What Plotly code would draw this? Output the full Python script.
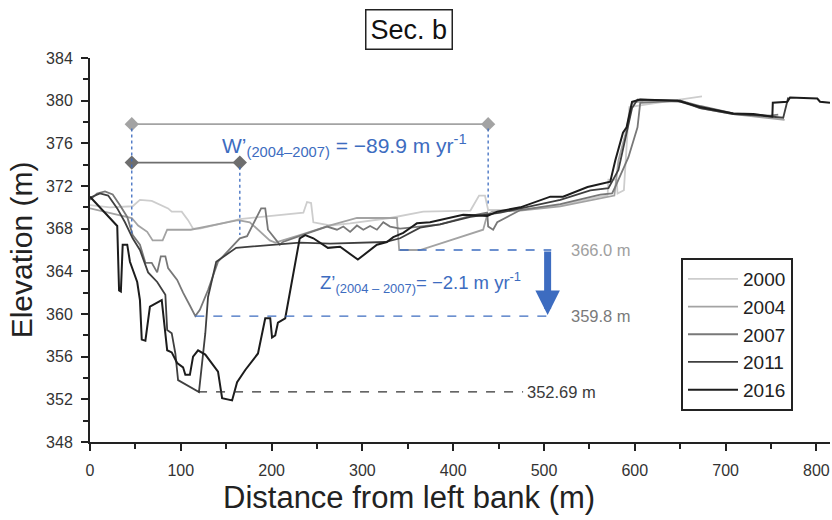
import plotly.graph_objects as go

# ---- data (distance m, elevation m) ----
x2000 = [0, 22, 47, 55, 68, 86, 90, 101, 108, 113.5, 121, 165, 235, 239, 243.5, 246, 264.5, 286.5, 330.5, 367, 419, 428.5, 435, 438.5, 474, 518, 562, 570, 571, 580, 581, 588, 592, 594, 617, 674]
y2000 = [370.2, 370.0, 370.1, 370.7, 370.6, 369.9, 369.6, 369.6, 368.8, 368.0, 368.0, 368.9, 369.5, 370.5, 370.4, 368.6, 368.3, 368.5, 369.0, 369.6, 369.7, 371.1, 371.1, 369.75, 369.75, 370.2, 371.0, 371.1, 372.6, 372.6, 371.3, 371.6, 377.1, 379.4, 379.7, 380.4]

x2004 = [0, 16.5, 31, 46, 53, 63, 69, 80, 85, 111, 163, 176, 198, 204, 231, 264.5, 294, 338, 340.5, 363.5, 433, 437.5, 443, 474, 518, 562, 577.5, 582, 589.5, 597, 611.5, 650, 672, 708.5, 749, 765]
y2004 = [369.9, 369.6, 369.3, 369.0, 368.3, 367.7, 366.9, 366.9, 367.9, 367.9, 368.8, 368.6, 366.9, 366.7, 367.4, 368.3, 369.0, 369.0, 366.0, 366.0, 367.9, 369.3, 369.6, 369.7, 370.1, 370.8, 371.1, 374.4, 376.8, 379.8, 380.0, 379.9, 379.3, 378.75, 378.4, 378.2]

x2007 = [0, 7.7, 16.5, 25, 33, 41, 47, 55, 61, 68, 74, 78, 83, 86, 96, 102.5, 110, 116, 121, 130, 141, 151, 165, 173, 188.5, 193, 196, 209, 212.5, 233.5, 261, 272, 279, 286.5, 294, 301, 308.5, 316, 323, 330.5, 341.5, 352.5, 385.5, 419, 437.5, 438.5, 444, 448.5, 474, 518, 562, 575, 579.5, 593, 603, 606, 650, 672, 708.5, 749, 758]
y2007 = [370.7, 371.3, 371.5, 371.2, 370.2, 369.1, 367.4, 366.5, 364.8, 364.8, 363.9, 365.4, 365.4, 364.3, 363.2, 362.0, 360.8, 359.8, 360.4, 362.25, 364.9, 365.8, 367.1, 367.3, 369.9, 369.9, 367.9, 366.5, 366.75, 367.4, 368.2, 367.9, 368.2, 367.7, 368.3, 367.9, 368.25, 367.9, 368.6, 368.2, 368.0, 368.1, 368.4, 369.2, 369.5, 368.2, 367.9, 368.6, 369.75, 370.3, 371.2, 371.3, 372.1, 374.7, 377.5, 379.8, 380.0, 379.5, 378.8, 378.6, 378.7]

x2011 = [0, 11, 20, 30, 38.5, 47, 55, 64, 74, 83, 85, 90, 94, 97, 120, 127, 130, 139, 161, 201.5, 231, 264.5, 297.5, 325, 341.5, 363.5, 385.5, 419, 452, 485, 518, 551, 571, 582, 589.5, 597, 603, 650, 672, 708.5, 738, 763.5, 769]
y2011 = [370.9, 371.3, 371.1, 369.9, 368.6, 367.1, 366.0, 363.9, 363.0, 361.8, 358.5, 358.2, 356.3, 353.8, 352.69, 358.2, 361.6, 364.9, 366.2, 366.5, 366.7, 366.6, 366.7, 366.75, 367.1, 368.1, 368.4, 369.1, 369.5, 370.1, 370.7, 371.6, 371.8, 373.5, 376.3, 379.3, 380.1, 380.0, 379.3, 378.75, 378.6, 378.4, 380.3]

x2016 = [0, 11, 30, 32, 34, 36, 41, 44, 52, 55, 57, 61, 66, 79, 85, 90, 96, 102.5, 105, 110, 113.5, 119, 127, 141, 145.5, 156.5, 162, 171, 185, 193, 198.5, 200.5, 204, 207, 215, 231, 237, 246, 262, 275.5, 295, 316, 327, 334, 345, 355, 360, 374.5, 385.5, 411, 437.5, 448.5, 474, 507, 521, 548, 573, 578.5, 587, 591, 597, 606, 647, 672, 708.5, 730.5, 751.5, 752, 768, 771, 801, 804, 815]
y2016 = [371.0, 370.0, 368.25, 362.2, 362.1, 366.5, 366.5, 364.9, 363.0, 361.3, 357.6, 357.5, 360.7, 361.3, 356.6, 356.4, 355.4, 355.0, 354.3, 354.3, 356.0, 356.6, 356.2, 354.6, 352.1, 351.9, 353.6, 354.75, 356.3, 359.6, 359.6, 357.8, 358.0, 359.2, 359.6, 367.1, 367.4, 367.1, 366.2, 366.3, 365.1, 366.5, 366.75, 367.2, 367.6, 368.2, 368.5, 368.6, 368.8, 369.3, 369.2, 369.6, 370.0, 371.0, 371.0, 371.9, 372.4, 374.4, 377.0, 377.5, 379.9, 380.1, 380.0, 379.4, 378.8, 378.75, 378.5, 379.8, 379.9, 380.3, 380.2, 379.9, 379.8]

years = ["2000", "2004", "2007", "2011", "2016"]
xs = [x2000, x2004, x2007, x2011, x2016]
ys = [y2000, y2004, y2007, y2011, y2016]
colors = ["#cdcdcd", "#a3a3a3", "#787878", "#3f3f3f", "#1c1c1c"]
widths = [1.8, 1.8, 1.8, 1.8, 2.0]

# annotation values
w_left, w_right_2004, w_right_2007 = 46, 438.5, 165
w_level_2004, w_level_2007 = 377.8, 374.2
z_2004, z_2007, z_min = 366.0, 359.8, 352.69

BLUE = "#3d6cc0"
FONT = "Liberation Sans, Arial, sans-serif"

# body margin is removed in the page, plot area at page x 90..830, y 58..442
W, H = 832, 520
ML, MR, MT, MB = 90, 2, 58, 78

def px_x(p):  # page pixel -> paper x
    return (p - 90) / 740.0

def px_y(p):  # page pixel -> paper y
    return 1 + (58 - p) / 384.0

fig = go.Figure()
for yr, xv, yv, c, w in zip(years, xs, ys, colors, widths):
    fig.add_trace(go.Scatter(x=xv, y=yv, mode="lines", name=yr,
                             line=dict(color=c, width=w)))

# width bars with diamond markers
fig.add_trace(go.Scatter(x=[w_left, w_right_2004], y=[w_level_2004] * 2, mode="lines+markers",
                         line=dict(color="#a3a3a3", width=1.8),
                         marker=dict(symbol="diamond", size=11, color="#a3a3a3"),
                         showlegend=False, hoverinfo="skip"))
fig.add_trace(go.Scatter(x=[w_left, w_right_2007], y=[w_level_2007] * 2, mode="lines+markers",
                         line=dict(color="#6e6e6e", width=1.8),
                         marker=dict(symbol="diamond", size=11, color="#6e6e6e"),
                         showlegend=False, hoverinfo="skip"))

shapes = []
def vline(x, y0, y1):
    shapes.append(dict(type="line", x0=x, x1=x, y0=y0, y1=y1, xref="x", yref="y",
                       line=dict(color=BLUE, width=1.3, dash="dot")))
vline(w_left, w_level_2004 - 0.4, 367.4)
vline(w_right_2007, w_level_2007 - 0.4, 367.4)
vline(w_right_2004, w_level_2004 - 0.4, 370.2)

def hline(x0, x1, y, color, dash="dash", width=1.3):
    shapes.append(dict(type="line", x0=x0, x1=x1, y0=y, y1=y, xref="x", yref="y",
                       line=dict(color=color, width=width, dash=dash)))
hline(341, 508, z_2004, BLUE)
hline(116, 508, z_2007, BLUE)
hline(119, 477, z_min, "#333333")

annotations = [
    dict(x=280, y=375.8, xref="x", yref="y", showarrow=False,
         text="W’<sub>(2004–2007)</sub> = −89.9 m yr<sup>-1</sup>",
         font=dict(family=FONT, size=21, color=BLUE)),
    dict(x=364, y=363.0, xref="x", yref="y", showarrow=False,
         text="Z’<sub>(2004 – 2007)</sub>= −2.1 m yr<sup>-1</sup>",
         font=dict(family=FONT, size=18.5, color=BLUE)),
    dict(x=504, y=z_2007 + 0.1, ax=504, ay=z_2004, xref="x", yref="y", axref="x", ayref="y",
         showarrow=True, arrowhead=2, arrowsize=0.7, arrowwidth=7, arrowcolor=BLUE, text=""),
    dict(x=527, y=z_2004, xref="x", yref="y", showarrow=False, xanchor="left",
         text="366.0 m", font=dict(family=FONT, size=16.5, color="#a0a0a0")),
    dict(x=527, y=z_2007, xref="x", yref="y", showarrow=False, xanchor="left",
         text="359.8 m", font=dict(family=FONT, size=16.5, color="#7a7a7a")),
    dict(x=479, y=z_min, xref="x", yref="y", showarrow=False, xanchor="left",
         text="352.69 m", font=dict(family=FONT, size=16.5, color="#3a3a3a")),
    dict(x=px_x(409), y=px_y(29), xref="paper", yref="paper", showarrow=False,
         xanchor="center", yanchor="middle",
         text="Sec. b", font=dict(family=FONT, size=27, color="#111111"),
         bordercolor="#222222", borderwidth=1.5, borderpad=4, bgcolor="white"),
    dict(x=px_x(409), y=px_y(497), xref="paper", yref="paper", showarrow=False,
         xanchor="center", yanchor="middle",
         text="Distance from left bank (m)", font=dict(family=FONT, size=31, color="#222222")),
]

fig.update_layout(
    width=W, height=H,
    margin=dict(l=ML, r=MR, t=MT, b=MB, autoexpand=False),
    paper_bgcolor="white", plot_bgcolor="white",
    font=dict(family=FONT, color="#222222"),
    showlegend=True,
    legend=dict(x=px_x(681), y=px_y(258), xanchor="left", yanchor="top",
                bgcolor="white", bordercolor="#222222", borderwidth=2,
                font=dict(family=FONT, size=19, color="#222222"),
                itemwidth=50, tracegroupgap=0),
    shapes=shapes,
    annotations=annotations,
)
fig.update_xaxes(range=[0, 815], showgrid=False, zeroline=False, automargin=False,
                 showline=True, linecolor="#222222", linewidth=2,
                 ticks="outside", ticklen=7, tickwidth=2, tickcolor="#222222",
                 dtick=100, tick0=0, ticklabelstandoff=6, ticklabeloverflow="allow",
                 minor=dict(dtick=50, ticks="outside", ticklen=5, tickwidth=2, tickcolor="#222222"),
                 tickfont=dict(family=FONT, size=16, color="#333333"))
fig.update_yaxes(range=[348, 384], showgrid=False, zeroline=False, automargin=False,
                 showline=True, linecolor="#222222", linewidth=2,
                 ticks="outside", ticklen=7, tickwidth=2, tickcolor="#222222",
                 dtick=4, tick0=348, ticklabelstandoff=5,
                 minor=dict(dtick=2, ticks="outside", ticklen=5, tickwidth=2, tickcolor="#222222"),
                 tickfont=dict(family=FONT, size=16, color="#333333"),
                 title=dict(text="Elevation (m)", font=dict(family=FONT, size=30, color="#222222"), standoff=5))

fig.write_html("out.html",
               config={"displayModeBar": False},
               post_script="document.body.style.margin='0';document.body.style.overflow='hidden';")
